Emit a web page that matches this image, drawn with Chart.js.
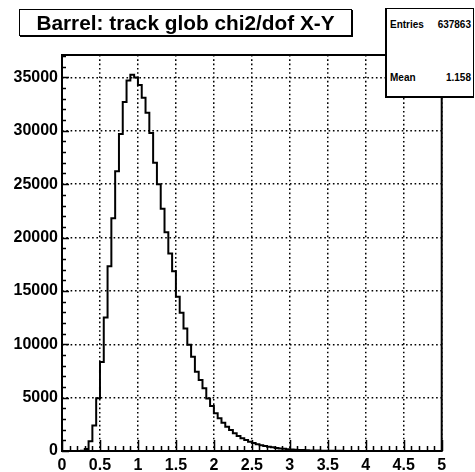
<!DOCTYPE html>
<html>
<head>
<meta charset="utf-8">
<script src="https://cdn.jsdelivr.net/npm/chart.js@4.4.1/dist/chart.umd.min.js"></script>
<style>
  html, body { margin: 0; padding: 0; background: #fff; }
  #wrap { position: relative; width: 475px; height: 472px; overflow: hidden; background: #fff; }
  #c { position: absolute; left: 0; top: 0; }
  #title {
    position: absolute; left: 19px; top: 9px; width: 331px; height: 25px;
    border: 1px solid #000; box-shadow: 1px 1px 0 #000; background: #fff;
    font: bold 20.8px "Liberation Sans", Arial, sans-serif; color: #000;
    text-align: center; line-height: 26px; white-space: nowrap;
  }
  #stats {
    position: absolute; left: 385px; top: 8px; width: 86px; height: 87px;
    border-top: 1px solid #000; border-right: 1px solid #000;
    border-left: 2px solid #000; border-bottom: 2px solid #000;
    background: #fff; font: bold 10px "Liberation Sans", Arial, sans-serif; color: #000;
  }
  .row { position: absolute; left: 3px; right: 2px; height: 12px; line-height: 12px; }
  .row .k { position: absolute; left: 0; }
  .row .v { position: absolute; right: 0; }
</style>
</head>
<body>
<div id="wrap">
  <canvas id="c" width="475" height="472"></canvas>
  <div id="title">Barrel: track glob chi2/dof X-Y</div>
  <div id="stats">
    <div class="row" style="top:10px"><span class="k">Entries</span><span class="v">637863</span></div>
    <div class="row" style="top:63px"><span class="k">Mean</span><span class="v">1.158</span></div>
  </div>
</div>
<script>
// Histogram definition: 100 bins from 0 to 5
const xMin = 0;
const xMax = 5;
const nBins = 100;

// Bin contents
const counts = [
  0, 0, 0, 0, 0, 20, 180, 920, 2400, 4950,
  8330, 12500, 17300, 21800, 26200, 29700, 32700, 34700, 35250, 35000,
  34300, 33100, 31700, 29800, 27000, 25000, 22700, 20500, 18500, 16850,
  14450, 12950, 11480, 9950, 8830, 7420, 6650, 5870, 4930, 4210,
  3530, 3060, 2650, 2280, 1970, 1660, 1400, 1190, 1030, 870,
  750, 640, 550, 470, 400, 340, 290, 245, 205, 175,
  145, 120, 100, 85, 70, 58, 48, 40, 33, 27,
  22, 18, 15, 12, 10, 8, 7, 6, 5, 4,
  3, 3, 2, 2, 2, 1, 1, 1, 1, 1,
  0, 0, 0, 0, 0, 0, 0, 0, 0, 0
];

const xTickValues = [0, 0.5, 1, 1.5, 2, 2.5, 3, 3.5, 4, 4.5, 5];
const xTickLabels = ['0', '0.5', '1', '1.5', '2', '2.5', '3', '3.5', '4', '4.5', '5'];
const yTickValues = [0, 5000, 10000, 15000, 20000, 25000, 30000, 35000];
const yTickLabels = ['0', '5000', '10000', '15000', '20000', '25000', '30000', '35000'];
const yMax = 37100;

const binW = (xMax - xMin) / nBins;
const points = counts.map((v, i) => ({ x: xMin + i * binW, y: v }));
points.push({ x: xMax, y: counts[counts.length - 1] });

const FONT = '"Liberation Sans", Arial, sans-serif';

const rootAxes = {
  id: 'rootAxes',
  beforeDatasetsDraw(chart) {
    const { ctx, chartArea: a, scales: { x, y } } = chart;
    ctx.save();
    ctx.strokeStyle = '#000';
    ctx.lineWidth = 1.5;
    ctx.beginPath();
    // x ticks: major every 0.5, minor every 0.1
    for (let i = 0; i <= 50; i++) {
      const v = i * 0.1;
      const px = Math.round(x.getPixelForValue(v)) + 0.5;
      const len = (i % 5 === 0) ? 11 : 5;
      ctx.moveTo(px, a.bottom);
      ctx.lineTo(px, a.bottom - len);
    }
    // y ticks: major every 5000, minor every 1000
    for (let i = 0; i <= 37; i++) {
      const v = i * 1000;
      if (v > yMax) break;
      const py = Math.round(y.getPixelForValue(v)) + 0.5;
      const len = (i % 5 === 0) ? 7 : 4;
      ctx.moveTo(a.left, py);
      ctx.lineTo(a.left + len, py);
    }
    ctx.stroke();
    ctx.restore();
  },
  afterDatasetsDraw(chart) {
    const { ctx, chartArea: a } = chart;
    ctx.save();
    ctx.strokeStyle = '#000';
    ctx.lineWidth = 2;
    ctx.strokeRect(a.left, a.top, a.right - a.left, a.bottom - a.top);
    ctx.restore();
  }
};

new Chart(document.getElementById('c'), {
  type: 'line',
  data: {
    datasets: [{
      data: points,
      stepped: true,
      borderColor: '#000',
      borderWidth: 2,
      pointRadius: 0,
      fill: false,
      tension: 0
    }]
  },
  options: {
    responsive: false,
    animation: false,
    devicePixelRatio: 1,
    layout: { padding: { top: 55, right: 33.3, left: 0, bottom: 0 } },
    plugins: { legend: { display: false }, tooltip: { enabled: false }, title: { display: false } },
    scales: {
      x: {
        type: 'linear', min: xMin, max: xMax,
        afterFit(s) { s.height = 21; },
        afterBuildTicks(s) { s.ticks = xTickValues.map(v => ({ value: v })); },
        grid: { color: '#000', lineWidth: 1.5, drawTicks: false },
        border: { display: false, dash: [1.6, 2.7] },
        ticks: {
          autoSkip: false, maxRotation: 0,
          padding: 5, color: '#000',
          font: { family: FONT, size: 16, weight: 'bold' },
          callback: (v, i) => xTickLabels[i]
        }
      },
      y: {
        type: 'linear', min: 0, max: yMax,
        afterFit(s) { s.width = 62; },
        afterBuildTicks(s) { s.ticks = yTickValues.map(v => ({ value: v })); },
        grid: { color: '#000', lineWidth: 1.5, drawTicks: false },
        border: { display: false, dash: [1.6, 2.7] },
        ticks: {
          autoSkip: false,
          padding: 4, color: '#000',
          font: { family: FONT, size: 16, weight: 'bold' },
          callback: (v, i) => yTickLabels[i]
        }
      }
    }
  },
  plugins: [rootAxes]
});
</script>
</body>
</html>
